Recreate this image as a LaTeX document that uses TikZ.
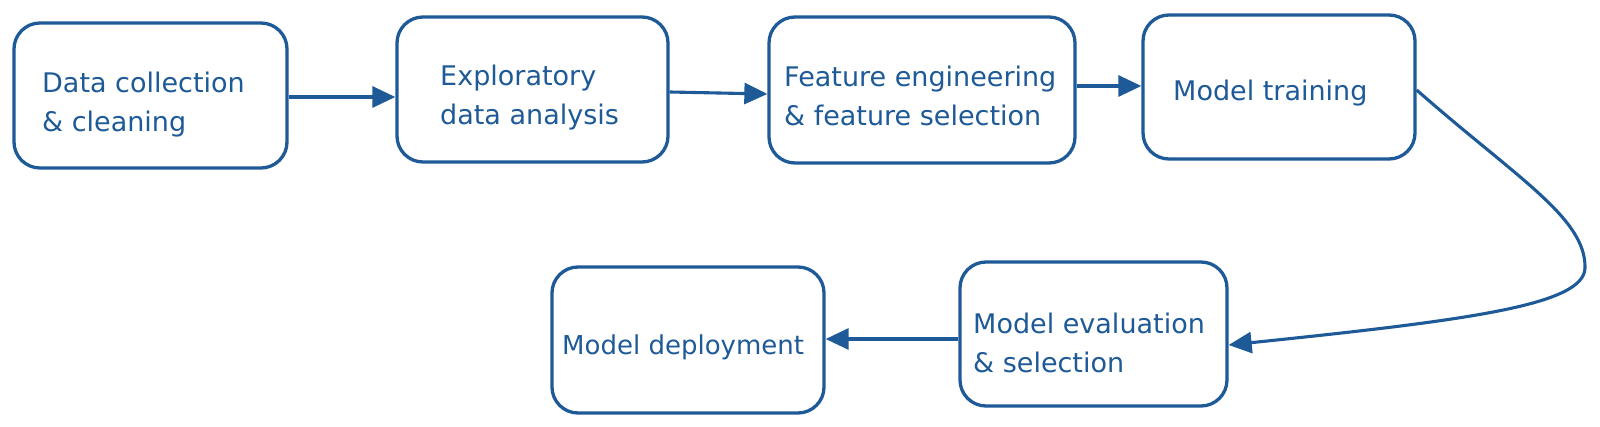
\documentclass[tikz,border=0pt]{standalone}
\usepackage{fontspec}
\setmainfont{DejaVu Sans}
\usetikzlibrary{arrows.meta}
\definecolor{exb}{HTML}{1E5A97}
\tikzset{
  stepbox/.style={draw=exb, line width=3.3pt, rounded corners=26pt, inner sep=0pt, fill=white},
  lbl/.style={anchor=west, align=left, inner sep=0pt, text=exb, font=\fontsize{27}{39}\selectfont},
  conn/.style={draw=exb, line width=3.1pt, -{Triangle[length=23pt,width=21pt]}}
}
\begin{document}
\begin{tikzpicture}[x=1pt,y=1pt]
\useasboundingbox[fill=white] (0,0) rectangle (1600,-427);
% boxes
\node[stepbox, minimum width=273pt, minimum height=145pt] (b1) at (150.5,-95.5) {};
\node[stepbox, minimum width=271pt, minimum height=145pt] (b2) at (532.5,-89.5) {};
\node[stepbox, minimum width=306pt, minimum height=146pt] (b3) at (922,-90) {};
\node[stepbox, minimum width=272pt, minimum height=144pt] (b4) at (1279,-87) {};
\node[stepbox, minimum width=267pt, minimum height=144pt] (b5) at (1093.5,-334) {};
\node[stepbox, minimum width=272pt, minimum height=146pt] (b6) at (688,-340) {};
% labels
\node[lbl] (t1) at (42,-105) {Data collection\\\& cleaning};
\node[lbl] (t2) at (440,-98) {Exploratory\\data analysis};
\node[lbl] (t3) at (784,-96) {Feature engineering\\\& feature selection};
\node[lbl] (t4) at (1173,-93) {Model training};
\node[lbl] (t5) at (973,-343) {Model evaluation\\\& selection};
\node[lbl, font=\fontsize{26}{38}\selectfont] (t6) at (562,-347) {Model deployment};
% connectors
\coordinate (turn) at (1585,-268);
\draw[conn] ([yshift=-1.5pt]b1.east) -- ([yshift=-1.5pt]b1.east -| b2.west);
\draw[conn] ([yshift=-2.5pt]b2.east) -- ([yshift=-4pt]b3.west);
\draw[conn] ([yshift=4pt]b3.east) -- ([yshift=4pt]b3.east -| b4.west);
\draw[conn] ([yshift=-3pt]b4.east) .. controls +(100,-88) and (1586,-218) .. (turn)
   .. controls (1584,-305) and (1470,-320) .. ([yshift=-11pt]b5.east);
\draw[conn] ([yshift=-5pt]b5.west) -- ([yshift=-5pt]b5.west -| b6.east);
\end{tikzpicture}
\end{document}
